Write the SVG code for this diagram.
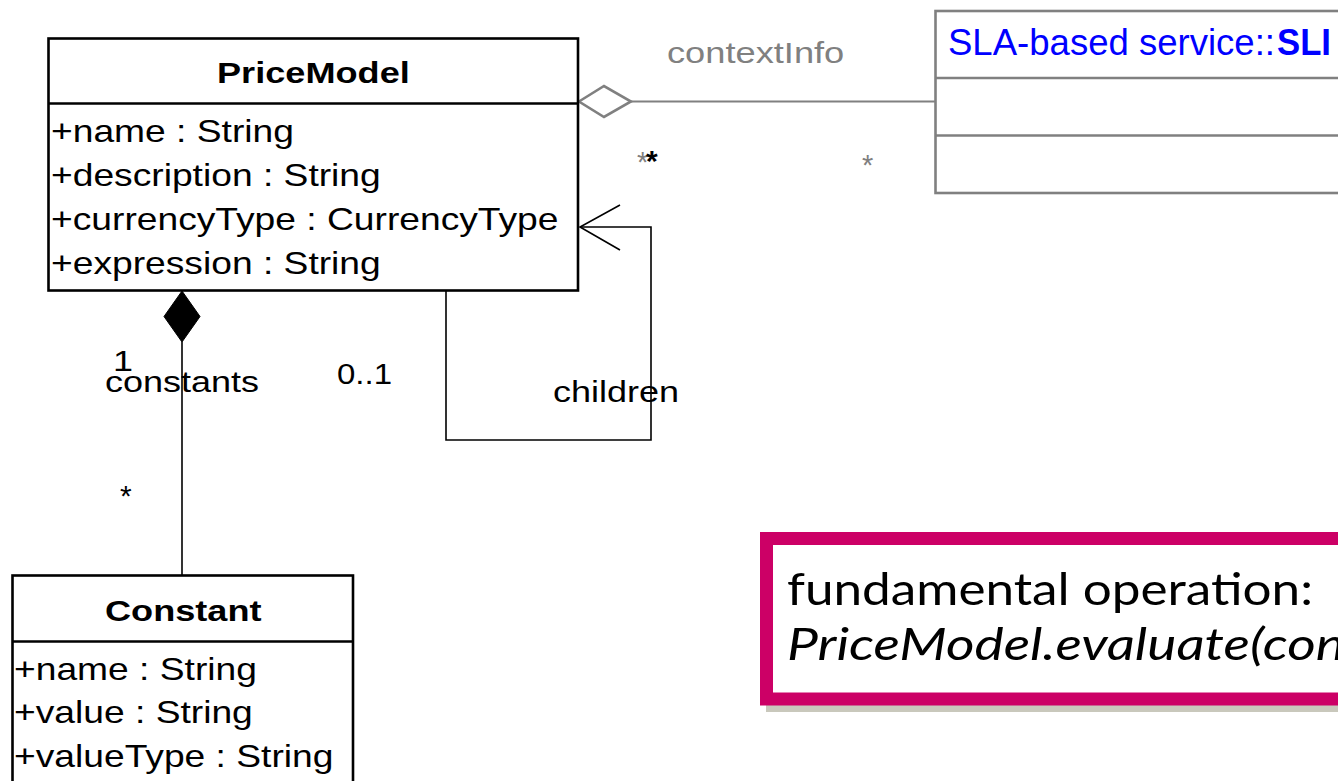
<svg xmlns="http://www.w3.org/2000/svg" width="1338" height="781" viewBox="0 0 1338 781">
<style>
text { font-family: "Liberation Sans", Arial, sans-serif; }
.box { fill: #ffffff; stroke: #000000; stroke-width: 2.6; }
.div { stroke: #000000; stroke-width: 2.6; }
.gbox { fill: #ffffff; stroke: #808080; stroke-width: 2.6; }
.gdiv { stroke: #808080; stroke-width: 2.6; }
.title { font-weight: bold; font-size: 30px; fill: #000000; }
.attr { font-size: 31px; fill: #000000; }
.lbl { font-size: 30px; fill: #000000; }
.glbl { font-size: 29px; fill: #808080; }
.conn { fill: none; stroke: #000000; stroke-width: 1.6; }
.gconn { fill: none; stroke: #808080; stroke-width: 2.2; }
.note { font-family: Lato, "Open Sans", "Liberation Sans", sans-serif; font-size: 45px; fill: #000000; }
</style>

<g id="connectors">
  <!-- aggregation contextInfo -->
  <line class="gconn" x1="631" y1="101.5" x2="935" y2="101.5"/>
  <polygon points="579,101.5 604,86 631,101.5 604,117" fill="#ffffff" stroke="#808080" stroke-width="2.6"/>
  <text class="glbl" transform="translate(667,63) scale(1.25,1)">contextInfo</text>
  <text class="glbl" x="637" y="172">*</text>
  <text class="lbl" x="646" y="171" font-size="28" font-weight="bold">*</text>
  <text class="glbl" x="862" y="175">*</text>

  <!-- composition constants -->
  <line class="conn" x1="182" y1="342" x2="182" y2="576"/>
  <polygon points="182,291 200,316.5 182,342 164,316.5" fill="#000000" stroke="#000000" stroke-width="1"/>
  <text class="lbl" transform="translate(113,371) scale(1.2,1)">1</text>
  <text class="lbl" transform="translate(105,391.5) scale(1.2,1)">constants</text>
  <text class="lbl" transform="translate(337,383.5) scale(1.1,1)">0..1</text>
  <text class="lbl" x="120" y="506">*</text>

  <!-- self association children -->
  <polyline class="conn" points="446,291 446,440 651,440 651,227 580,227"/>
  <polyline class="conn" points="620,205 580,227 620,250" stroke-width="2.2"/>
  <text class="lbl" transform="translate(553,402) scale(1.2,1)">children</text>
</g>

<g id="PriceModel">
  <rect class="box" x="48.5" y="38.5" width="529.5" height="252"/>
  <line class="div" x1="48.5" y1="103.5" x2="578" y2="103.5"/>
  <text class="title" transform="translate(217,83) scale(1.205,1)">PriceModel</text>
  <text class="attr" transform="translate(51,141.5) scale(1.2,1)">+name : String</text>
  <text class="attr" transform="translate(51,185.5) scale(1.2,1)">+description : String</text>
  <text class="attr" transform="translate(51,229.5) scale(1.2,1)">+currencyType : CurrencyType</text>
  <text class="attr" transform="translate(51,273.5) scale(1.2,1)">+expression : String</text>
</g>

<g id="Constant">
  <rect class="box" x="12.5" y="575.5" width="340.5" height="240"/>
  <line class="div" x1="12.5" y1="641.5" x2="353" y2="641.5"/>
  <text class="title" transform="translate(105,620.5) scale(1.205,1)">Constant</text>
  <text class="attr" transform="translate(14,680) scale(1.2,1)">+name : String</text>
  <text class="attr" transform="translate(14,723) scale(1.2,1)">+value : String</text>
  <text class="attr" transform="translate(14,766.5) scale(1.2,1)">+valueType : String</text>
</g>

<g id="SLI">
  <rect class="gbox" x="935.5" y="11" width="500" height="182"/>
  <line class="gdiv" x1="935.5" y1="78" x2="1338" y2="78"/>
  <line class="gdiv" x1="935.5" y1="135.5" x2="1338" y2="135.5"/>
  <text x="948" y="54.5" font-size="36" fill="#0000FF" textLength="327" lengthAdjust="spacingAndGlyphs">SLA-based service::</text>
  <text x="1277" y="54.5" font-size="36" font-weight="bold" fill="#0000FF" textLength="54" lengthAdjust="spacingAndGlyphs">SLI</text>
</g>

<g id="note">
  <rect x="766" y="539" width="700" height="173" fill="#C9C8BC"/>
  <rect x="766.5" y="538.5" width="700" height="160.5" fill="#ffffff" stroke="#CC0066" stroke-width="13"/>
  <text class="note" x="787" y="605" textLength="526" lengthAdjust="spacingAndGlyphs">fundamental operation:</text>
  <text class="note" x="787" y="660" font-style="italic" textLength="558" lengthAdjust="spacingAndGlyphs">PriceModel.evaluate(con</text>
</g>
</svg>
